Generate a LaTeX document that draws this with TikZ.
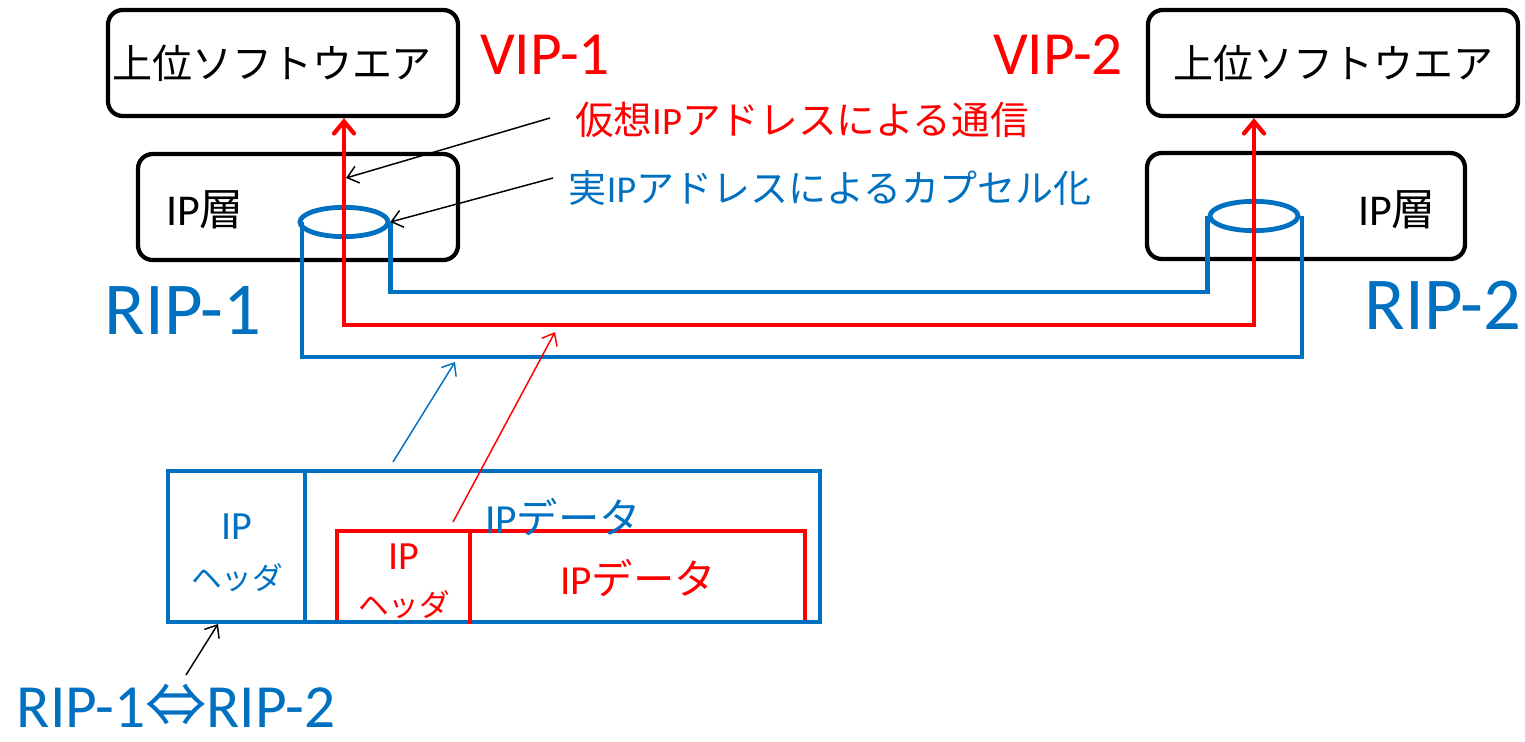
\documentclass[tikz,border=0pt]{standalone}
\usepackage{fontspec}
\setmainfont{Carlito}
\newfontfamily\cjk{Noto Sans CJK JP}
\usetikzlibrary{arrows.meta,shapes.geometric}
\definecolor{ablue}{HTML}{0070C0}
\definecolor{ared}{HTML}{FF0000}
\tikzset{
  box/.style={draw=black, line width=3.2pt, rounded corners=11pt, inner sep=0pt},
  txt/.style={inner sep=0pt, anchor=center},
  cyl/.style={ellipse, draw=ablue, line width=3.6pt, minimum width=66pt, minimum height=22pt, inner sep=0pt},
  bl/.style={draw=ablue, line width=3.5pt},
  rl/.style={draw=ared, line width=3.2pt},
  thin/.style={line width=1.1pt, arrows={-Straight Barb[length=8pt, width=13pt]}},
}
\begin{document}
\begin{tikzpicture}[x=0.75pt, y=-0.75pt]
\useasboundingbox (0,0) rectangle (1525,742);
% boxes
\node[box, minimum width=262.5pt, minimum height=79.5pt] (sw1) at (283,63) {};
\node[txt, font=\cjk\fontsize{30}{30}\selectfont] (sw1t) at (272,63) {上位ソフトウエア};
\node[box, minimum width=240pt, minimum height=79.5pt] (ip1) at (298,207) {};
\node[txt, font=\fontsize{33}{33}\selectfont] (ip1t) at (205,210) {IP{\cjk 層}};
\node[box, minimum width=277.5pt, minimum height=79.5pt] (sw2) at (1333,63) {};
\node[txt, font=\cjk\fontsize{30}{30}\selectfont] (sw2t) at (1333,63) {上位ソフトウエア};
\node[box, minimum width=238.5pt, minimum height=79.5pt] (ip2) at (1306,206) {};
\node[txt, font=\fontsize{33}{33}\selectfont] (ip2t) at (1397,210) {IP{\cjk 層}};
% cylinders and tunnel
\node[cyl] (cyl1) at (344,222) {};
\node[cyl] (cyl2) at (1254,216) {};
\coordinate (yin) at (0,292);
\coordinate (yout) at (0,357);
\coordinate (yred) at (0,325);
\coordinate (c1l) at (302,222);
\coordinate (c2r) at (1302,216);
\draw[bl] (c1l) -- (c1l |- yout) -| (c2r);
\draw[bl] (cyl1.east) -- (cyl1.east |- yin) -| (cyl2.west);
% red path
\draw[rl, line cap=round, arrows={Straight Barb[length=9pt, width=15pt, line cap=round]-Straight Barb[length=9pt, width=15pt, line cap=round]}]
  (cyl1.center |- sw1.south) -- (cyl1.center |- yred) -- (cyl2.center |- yred) -- (cyl2.center |- sw2.south);
% labels
\node[txt, text=ared, font=\fontsize{46}{46}\selectfont] (vip1) at (545,55) {VIP-1};
\node[txt, text=ared, font=\fontsize{46}{46}\selectfont] (vip2) at (1058,55) {VIP-2};
\node[txt, text=ablue, font=\fontsize{56}{56}\selectfont] (rip1) at (183,310) {RIP-1};
\node[txt, text=ablue, font=\fontsize{56}{56}\selectfont] (rip2) at (1443,305) {RIP-2};
\node[txt, text=ared, font=\fontsize{29}{29}\selectfont] (vlab) at (802,120) {{\cjk 仮想}IP{\cjk アドレスによる通信}};
\node[txt, text=ablue, font=\fontsize{28.5}{28.5}\selectfont] (rlab) at (830,188) {{\cjk 実}IP{\cjk アドレスによるカプセル化}};
% pointer arrows
\coordinate (p1s) at (550,118);
\coordinate (p1e) at (346,178);
\draw[thin, black] (p1s) -- (p1e);
\coordinate (p2s) at (553,178);
\draw[thin, black] (p2s) -- (cyl1.east);
% packet
\node[draw=ared, line width=3.2pt, minimum width=351pt, minimum height=68.25pt, inner sep=0pt] (rbox) at (571,576.5) {};
\node[draw=ablue, line width=3.5pt, minimum width=489pt, minimum height=113.25pt, inner sep=0pt] (obox) at (494,546.5) {};
\coordinate (bdiv) at (305,0);
\coordinate (rdiv) at (470,0);
\draw[bl] (bdiv |- obox.north) -- (bdiv |- obox.south);
\draw[rl] (rdiv |- rbox.north) -- (rdiv |- rbox.south);
\node[txt, text=ablue, font=\fontsize{30}{30}\selectfont] (bip) at (237,527) {IP};
\node[txt, text=ablue, font=\cjk\fontsize{23}{23}\selectfont] (bhd) at (237,578) {ヘッダ};
\node[txt, text=ablue, font=\fontsize{31}{31}\selectfont] (bdata) at (563,517) {IP{\cjk データ}};
\node[txt, text=ared, font=\fontsize{30}{30}\selectfont] (rip) at (404,557) {IP};
\node[txt, text=ared, font=\cjk\fontsize{23}{23}\selectfont] (rhd) at (404,605) {ヘッダ};
\node[txt, text=ared, font=\fontsize{31}{31}\selectfont] (rdata) at (638,578) {IP{\cjk データ}};
% packet arrows
\coordinate (q1s) at (393,462);
\coordinate (q1e) at (455,362);
\draw[thin, ablue] (q1s) -- (q1e);
\coordinate (q2s) at (453,522);
\coordinate (q2e) at (555,332);
\draw[thin, ared] (q2s) -- (q2e);
\coordinate (q3s) at (186,675);
\coordinate (q3e) at (218,624);
\draw[thin, black] (q3s) -- (q3e);
\node[txt, text=ablue, font=\fontsize{46}{46}\selectfont] (bot) at (176,706) {RIP-1{\cjk ⇔}RIP-2};
\end{tikzpicture}
\end{document}
